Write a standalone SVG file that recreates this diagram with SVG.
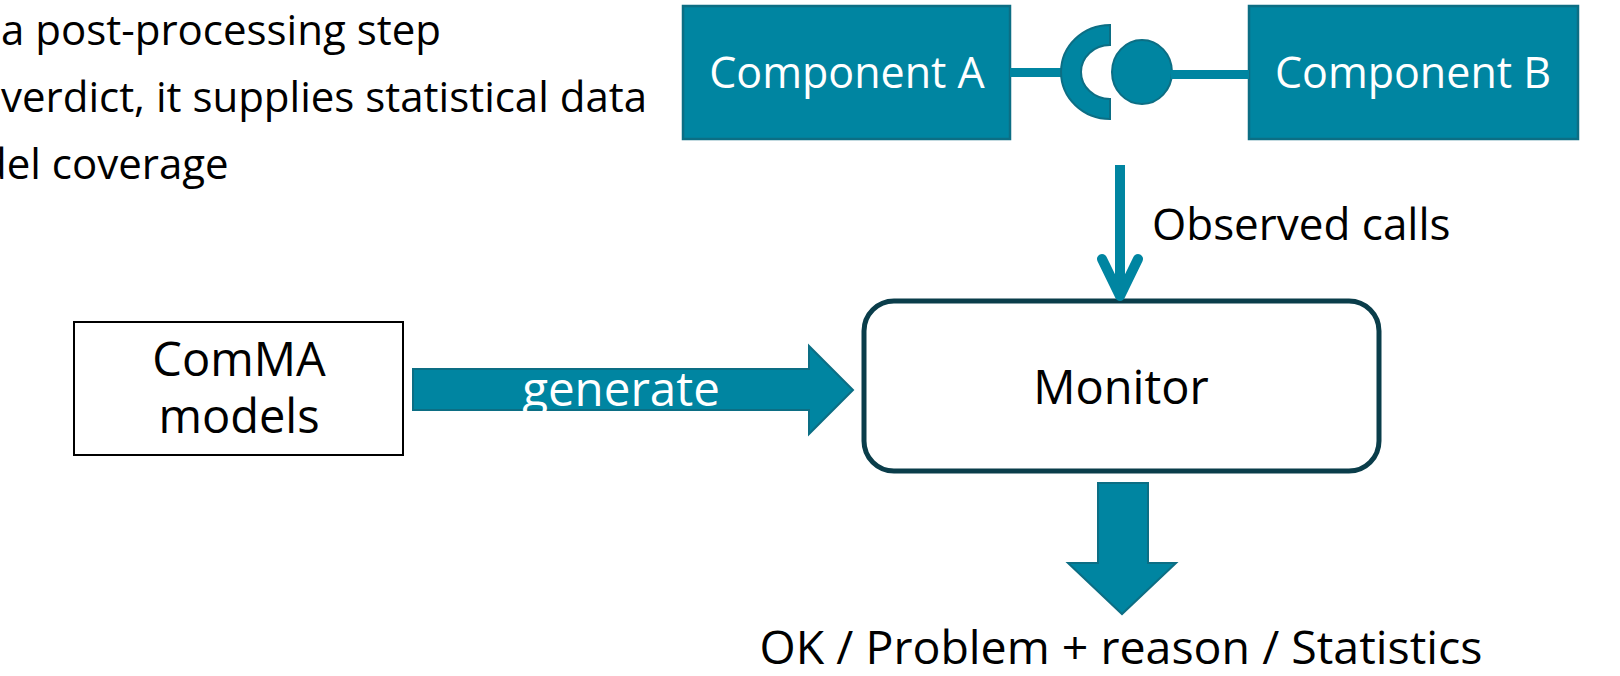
<svg xmlns="http://www.w3.org/2000/svg" width="1620" height="676" viewBox="0 0 1620 676">
<style>
text{font-family:"Open Sans","Noto Sans",sans-serif;}
.bullet{font-size:42px;fill:#000;}
.lbl{font-size:47px;fill:#000;text-anchor:middle;}
.wlbl{font-size:43px;fill:#fff;text-anchor:middle;}
.comp{fill:#0085A1;stroke:#0C6E84;stroke-width:2.5;}
.teal{fill:#0085A1;stroke:#0C6E84;stroke-width:2;}
</style>
<rect width="1620" height="676" fill="#fff"/>
<g id="bullets">
<text class="bullet" x="1" y="45">a post-processing step</text>
<text class="bullet" x="1" y="112">verdict, it supplies statistical data</text>
<text class="bullet" x="-19" y="179">del coverage</text>
</g>
<g id="componentA">
<rect class="comp" x="683" y="6" width="327" height="133"/>
<text class="wlbl" x="847" y="88">Component A</text>
</g>
<g id="componentB">
<rect class="comp" x="1249" y="6" width="329" height="133"/>
<text class="wlbl" x="1413" y="88">Component B</text>
</g>
<g id="interface">
<rect x="1010" y="68" width="53" height="9" fill="#0085A1"/>
<path class="teal" d="M1110,25 A49,47 0 0 0 1110,119 L1110,99 A29,27 0 0 1 1110,45 Z"/>
<ellipse class="teal" cx="1142" cy="72" rx="30" ry="32"/>
<rect x="1171" y="70" width="78" height="9" fill="#0085A1"/>
</g>
<g id="comma">
<rect x="74" y="322" width="329" height="133" fill="#fff" stroke="#000" stroke-width="2"/>
<text class="lbl" x="239" y="376">ComMA</text>
<text class="lbl" x="239" y="433">models</text>
</g>
<g id="monitor">
<rect x="864" y="301" width="515" height="170" rx="30" ry="30" fill="#fff" stroke="#0A3D4A" stroke-width="5"/>
<text class="lbl" x="1121" y="404">Monitor</text>
</g>
<g id="connectors">
<line x1="1120" y1="165" x2="1120" y2="292" stroke="#0085A1" stroke-width="10"/>
<polyline points="1102,259 1120,296 1138,259" fill="none" stroke="#0085A1" stroke-width="10" stroke-linecap="round" stroke-linejoin="round"/>
<text x="1152" y="240" style="font-size:44px;fill:#000;">Observed calls</text>
<path class="teal" d="M413,369 L809,369 L809,346 L853,390 L809,434 L809,410 L413,410 Z"/>
<text x="621" y="406" style="font-size:47.5px;fill:#fff;text-anchor:middle;">generate</text>
<path class="teal" d="M1098,483 L1148,483 L1148,563 L1176,563 L1122,614 L1068,563 L1098,563 Z"/>
</g>
<g id="result">
<text x="1121" y="664" style="font-size:46.5px;fill:#000;text-anchor:middle;">OK / Problem + reason / Statistics</text>
</g>
</svg>
